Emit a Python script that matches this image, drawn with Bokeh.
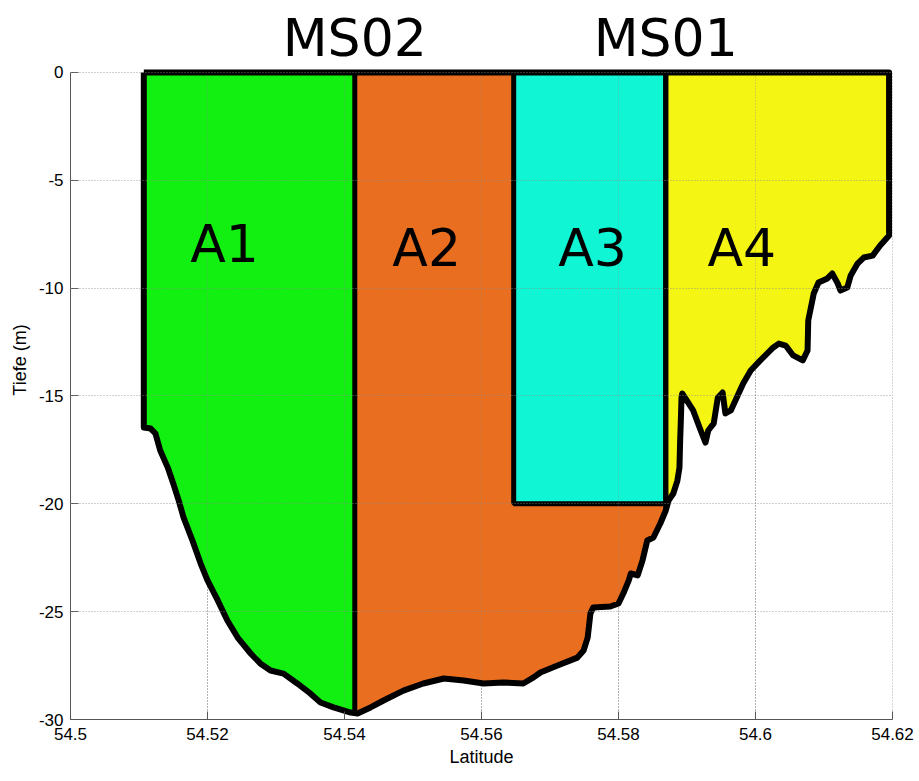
import numpy as np
from bokeh.plotting import figure
from bokeh.models import Range1d, FixedTicker, Label
from bokeh.embed import file_html
from bokeh.resources import INLINE

# ---- data ----
# sea-floor profile (latitude, depth in m), left to right
profile_lat = [54.5107, 54.5117, 54.5124, 54.5131, 54.5142, 54.5150, 54.5158, 54.5165,
               54.5178, 54.5190, 54.5200, 54.5215, 54.5229, 54.5244, 54.5263, 54.5277,
               54.5292, 54.5311, 54.5331, 54.5350, 54.5365, 54.5384, 54.5409, 54.5419,
               54.5438, 54.5457, 54.5486, 54.5515, 54.5545, 54.5574, 54.5603, 54.5632,
               54.5661, 54.5676, 54.5686, 54.5711, 54.5740, 54.5749, 54.5755, 54.5759,
               54.5763, 54.5788, 54.5800, 54.5807, 54.5815, 54.5818, 54.5828, 54.5835,
               54.5842, 54.5851, 54.5861, 54.5869, 54.5873, 54.5880, 54.5886, 54.5889,
               54.5890, 54.5891, 54.5892, 54.5893, 54.5909, 54.5920, 54.5927, 54.5931,
               54.5939, 54.5945, 54.5952, 54.5956, 54.5964, 54.5974, 54.5982, 54.5993,
               54.6007, 54.6026, 54.6034, 54.6044, 54.6055, 54.6069, 54.6076, 54.6077,
               54.6085, 54.6092, 54.6105, 54.6112, 54.6120, 54.6124, 54.6134, 54.6139,
               54.6149, 54.6158, 54.6171, 54.6182, 54.6195]
profile_depth = [-16.46, -16.51, -16.74, -17.53, -18.32, -19.06, -19.85, -20.63,
                 -21.70, -22.77, -23.55, -24.48, -25.41, -26.20, -26.94, -27.40,
                 -27.73, -27.87, -28.33, -28.79, -29.21, -29.44, -29.68, -29.72,
                 -29.44, -29.12, -28.66, -28.33, -28.10, -28.19, -28.33, -28.28,
                 -28.33, -28.05, -27.82, -27.50, -27.13, -26.80, -26.20, -25.09,
                 -24.81, -24.76, -24.62, -24.16, -23.55, -23.23, -23.32, -22.63,
                 -21.70, -21.56, -20.91, -20.31, -19.85, -19.52, -18.92, -18.32,
                 -17.06, -16.14, -15.07, -14.88, -15.67, -16.60, -17.16, -16.60,
                 -16.27, -15.07, -14.84, -15.81, -15.67, -14.98, -14.42, -13.82,
                 -13.35, -12.75, -12.57, -12.66, -13.12, -13.35, -12.89, -11.50,
                 -10.25, -9.74, -9.55, -9.32, -9.78, -10.11, -9.97, -9.41,
                 -8.86, -8.58, -8.49, -8.02, -7.56]

station_names = ["MS02", "MS01"]
station_lat = [54.5415, 54.5869]
station_label_height = [1.62, 1.58]

a3_left_lat = 54.5647
a3_bottom_depth = -20.0

region_names = ["A1", "A2", "A3", "A4"]
region_colors = ["#12F012", "#E96E20", "#10F5D4", "#F5F514"]
region_label_lat = [54.5225, 54.5520, 54.5762, 54.5980]
region_label_depth = [-7.93, -8.16, -8.16, -8.16]

xticks = [54.5, 54.52, 54.54, 54.56, 54.58, 54.6, 54.62]
xtick_labels = ["54.5", "54.52", "54.54", "54.56", "54.58", "54.6", "54.62"]
yticks = [0, -5, -10, -15, -20, -25, -30]
ytick_labels = ["0", "-5", "-10", "-15", "-20", "-25", "-30"]
depth_min, depth_max = -30, 0

# ---- figure ----
# the frame reaches up to the top of the page so the station names above the
# section are inside it; the y axis itself is bounded to 0 .. -30 m
p = figure(width=919, height=781, output_backend="svg", toolbar_location=None,
           x_range=Range1d(54.5, 54.62), y_range=Range1d(depth_min, 3.338),
           min_border_left=70, min_border_right=27, min_border_top=0, min_border_bottom=62)
p.outline_line_color = None
p.background_fill_color = "white"
p.border_fill_color = "white"

plat = np.array(profile_lat)
pdep = np.array(profile_depth)
left_lat, right_lat = plat[0], plat[-1]

grid_color = "#8a8a8a"
# vertical grid lines limited to the axis extent
p.segment(x0=xticks, x1=xticks, y0=[depth_min] * len(xticks), y1=[depth_max] * len(xticks),
          line_color=grid_color, line_dash="1 2", line_width=1)


def region_polygon(lo, hi):
    mask = (plat > lo) & (plat < hi)
    xs = [lo, lo] + list(plat[mask]) + [hi, hi]
    ys = [0, float(np.interp(lo, plat, pdep))] + list(pdep[mask]) + \
         [float(np.interp(hi, plat, pdep)), 0]
    return xs, ys


bounds = [left_lat, station_lat[0], station_lat[1], right_lat]
for (lo, hi), color in zip([(bounds[0], bounds[1]), (bounds[1], bounds[2]), (bounds[2], bounds[3])],
                           [region_colors[0], region_colors[1], region_colors[3]]):
    xs, ys = region_polygon(lo, hi)
    p.patch(xs, ys, fill_color=color, line_color=color, line_width=1)

p.quad(left=[a3_left_lat], right=[station_lat[1]], top=[0], bottom=[a3_bottom_depth],
       fill_color=region_colors[2], line_color="black", line_width=5)

# vertical grid lines again, faintly over the fills (as in the reference)
p.segment(x0=xticks, x1=xticks, y0=[depth_min] * len(xticks), y1=[depth_max] * len(xticks),
          line_color=grid_color, line_dash="1 2", line_width=1, line_alpha=0.6)

# outline of the section
ox = [left_lat] + list(plat) + [right_lat, left_lat]
oy = [0] + list(pdep) + [0, 0]
p.line(ox, oy, line_color="black", line_width=6, line_join="round")

# station dividers
for s in station_lat:
    p.line([s, s], [0, float(np.interp(s, plat, pdep))], line_color="black", line_width=5)

# labels
for name, lx, ly in zip(region_names, region_label_lat, region_label_depth):
    p.add_layout(Label(x=lx, y=ly, text=name, text_font="DejaVu Sans", text_font_size="52px",
                       text_align="center", text_baseline="middle", text_color="black"))
for name, lx, ly in zip(station_names, station_lat, station_label_height):
    p.add_layout(Label(x=lx, y=ly, text=name, text_font="DejaVu Sans", text_font_size="52px",
                       text_align="center", text_baseline="middle", text_color="black"))

# axes
p.xaxis.ticker = FixedTicker(ticks=xticks)
p.yaxis.ticker = FixedTicker(ticks=yticks)
p.yaxis.bounds = (depth_min, depth_max)
p.xaxis.major_label_overrides = {t: l for t, l in zip(xticks, xtick_labels)}
p.yaxis.major_label_overrides = {t: l for t, l in zip(yticks, ytick_labels)}
p.xaxis.axis_label = "Latitude"
p.yaxis.axis_label = "Tiefe (m)"
for ax in (p.xaxis[0], p.yaxis[0]):
    ax.axis_line_color = "#555555"
    ax.major_tick_line_color = "#555555"
    ax.major_tick_in = 8
    ax.major_tick_out = 0
    ax.minor_tick_line_color = None
    ax.major_label_text_font = "Liberation Sans"
    ax.major_label_text_font_size = "17px"
    ax.major_label_text_color = "black"
    ax.axis_label_text_font = "Liberation Sans"
    ax.axis_label_text_font_size = "18px"
    ax.axis_label_text_font_style = "normal"
    ax.axis_label_text_color = "black"
p.xaxis.major_label_standoff = 8
p.xaxis.axis_label_standoff = 4
p.yaxis.major_label_standoff = 7
p.yaxis.axis_label_standoff = 6

p.xgrid.grid_line_color = None
p.ygrid.ticker = FixedTicker(ticks=yticks)
p.ygrid.grid_line_color = grid_color
p.ygrid.grid_line_dash = "1 2"
p.ygrid.grid_line_width = 1
p.ygrid.level = "guide"
p.ygrid.grid_line_alpha = 0.8

open("out.html", "w").write(file_html(p, INLINE))
